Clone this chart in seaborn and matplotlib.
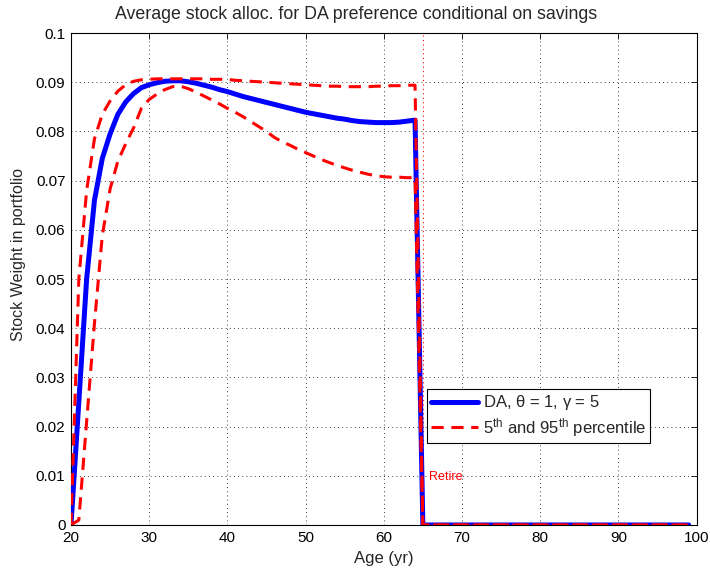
import numpy as np
import pandas as pd
import matplotlib
matplotlib.use("Agg")
import matplotlib.pyplot as plt
import seaborn as sns

# Working-life ages (20..64) and retirement ages (65..99)
AGES = list(range(20, 100))

# Mean stock weight for the DA preference, theta = 1, gamma = 5
MEAN_WORK = [0.0, 0.025, 0.050, 0.066, 0.0745, 0.0795, 0.0835, 0.0860, 0.0877, 0.0889,
             0.0895, 0.0899, 0.0902, 0.0903, 0.0903, 0.0901, 0.0898, 0.0894, 0.0890, 0.0885,
             0.0881, 0.0876, 0.0871, 0.0867, 0.0863, 0.0859, 0.0855, 0.0851, 0.0847, 0.0843,
             0.0839, 0.0836, 0.0833, 0.0830, 0.0827, 0.0825, 0.0822, 0.0820, 0.0819, 0.0818,
             0.0818, 0.0818, 0.0819, 0.0821, 0.0823]

# 95th percentile of the stock weight
P95_WORK = [0.0, 0.050, 0.068, 0.0785, 0.0835, 0.0862, 0.0882, 0.0895, 0.0902, 0.0905,
            0.0906, 0.0907, 0.0907, 0.0907, 0.0907, 0.0907, 0.0907, 0.0907, 0.0906, 0.0906,
            0.0906, 0.0904, 0.0903, 0.0902, 0.0901, 0.0900, 0.0899, 0.0898, 0.0897, 0.0896,
            0.0895, 0.0894, 0.0893, 0.0892, 0.0892, 0.0891, 0.0891, 0.0891, 0.0891, 0.0892,
            0.0892, 0.0893, 0.0893, 0.0894, 0.0894]

# 5th percentile of the stock weight
P05_WORK = [0.0, 0.001, 0.021, 0.041, 0.0588, 0.0683, 0.0740, 0.0775, 0.0807, 0.0847,
            0.0865, 0.0876, 0.0885, 0.0891, 0.0892, 0.0887, 0.0880, 0.0872, 0.0864, 0.0856,
            0.0847, 0.0839, 0.0830, 0.0820, 0.0810, 0.0800, 0.0788, 0.0779, 0.0772, 0.0764,
            0.0757, 0.0750, 0.0743, 0.0737, 0.0731, 0.0726, 0.0721, 0.0717, 0.0713, 0.0710,
            0.0708, 0.0707, 0.0707, 0.0706, 0.0706]

# No stock holdings after retirement
RETIRED = [0.0] * 35

RETIRE_AGE = 65
X_TICKS = [20, 30, 40, 50, 60, 70, 80, 90, 100]
Y_TICKS = [0, 0.01, 0.02, 0.03, 0.04, 0.05, 0.06, 0.07, 0.08, 0.09, 0.1]
Y_TICK_LABELS = ["0", "0.01", "0.02", "0.03", "0.04", "0.05", "0.06", "0.07", "0.08", "0.09", "0.1"]

df = pd.DataFrame({
    "age": AGES,
    "mean": MEAN_WORK + RETIRED,
    "p95": P95_WORK + RETIRED,
    "p05": P05_WORK + RETIRED,
})

sns.set_style("white")
plt.rcParams["font.family"] = ["Liberation Sans", "DejaVu Sans"]
plt.rcParams["mathtext.fontset"] = "custom"
plt.rcParams["mathtext.rm"] = "Liberation Sans"
plt.rcParams["mathtext.it"] = "Liberation Sans"

fig = plt.figure(figsize=(7.10, 5.73), dpi=100)
ax = fig.add_axes([0.100, 0.0838, 0.881, 0.8585])

ax.axvline(RETIRE_AGE, color="red", linestyle=(0, (1, 3)), linewidth=0.8, zorder=1)

sns.lineplot(data=df, x="age", y="mean", ax=ax, color="#0000ff", linewidth=3.6,
             label=r"DA, $\theta$ = 1, $\gamma$ = 5", zorder=3)
sns.lineplot(data=df, x="age", y="p95", ax=ax, color="#ff0000", linewidth=2.2,
             dashes=(4, 2.5), label=r"5$^{\rm th}$ and 95$^{\rm th}$ percentile", zorder=4)
sns.lineplot(data=df, x="age", y="p05", ax=ax, color="#ff0000", linewidth=2.2,
             dashes=(4, 2.5), label="_nolegend_", zorder=4)

ax.set_xlim(20, 100)
ax.set_ylim(0, 0.1)
ax.set_xticks(X_TICKS)
ax.set_yticks(Y_TICKS)
ax.set_yticklabels(Y_TICK_LABELS)
ax.grid(True, color="black", linestyle=(0, (1, 4)), linewidth=0.6)
ax.tick_params(direction="in", length=4, width=0.6, top=True, right=True,
               labelsize=11, pad=4, colors="black")
for s in ax.spines.values():
    s.set_color("black")
    s.set_linewidth(0.8)

ax.set_xlabel("Age (yr)", fontsize=12, labelpad=5)
ax.set_ylabel("Stock Weight in portfolio", fontsize=11.5, labelpad=6)
ax.yaxis.set_label_coords(-0.072, 0.55)
ax.set_title("Average stock alloc. for DA preference conditional on savings",
             fontsize=12.8, x=0.455, y=1.0, pad=10)

ax.text(65.8, 0.0097, "Retire", color="red", fontsize=9, va="center", ha="left")

leg = ax.legend(loc="lower left", bbox_to_anchor=(0.569, 0.167), fontsize=12,
                frameon=True, fancybox=False, framealpha=1, edgecolor="black",
                handlelength=2.8, handletextpad=0.3, borderpad=0.25, labelspacing=0.2,
                borderaxespad=0)
leg.get_frame().set_linewidth(0.8)

fig.savefig("out.png", dpi=100)
